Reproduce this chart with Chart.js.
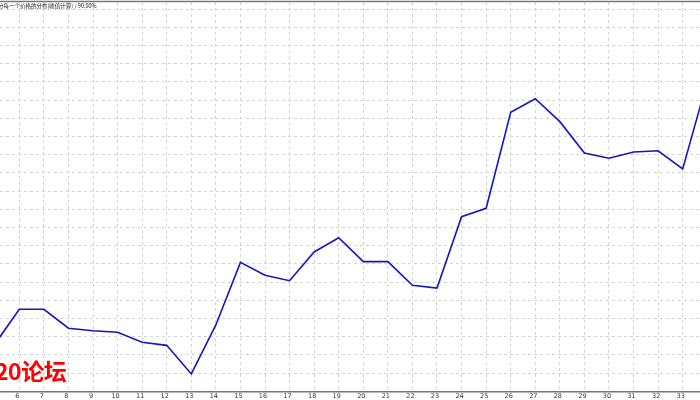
<!DOCTYPE html>
<html>
<head>
<meta charset="utf-8">
<script src="https://cdn.jsdelivr.net/npm/chart.js@4"></script>
<style>
  body { margin: 0; background: #fff; }
  #wrap { position: relative; width: 700px; height: 400px; overflow: hidden; }
  #title { position: absolute; left: -2px; top: 2px; font: 5.5px "Noto Sans CJK SC", sans-serif; color: #222; white-space: nowrap; }
  #mark { position: absolute; left: -5px; top: 353px; font: bold 23px "Noto Sans CJK SC", sans-serif; color: #f00; white-space: nowrap; letter-spacing: -0.5px; }
</style>
</head>
<body>
<div id="wrap">
  <canvas id="lineChart"></canvas>
  <div id="title">分每一个价格的分布(峰值计算) / 90.00%</div>
  <div id="mark">20论坛</div>
</div>
<script>
// bar index shown on the bottom axis (5 and 34 fall just outside the view)
const xValues = [5, 6, 7, 8, 9, 10, 11, 12, 13, 14, 15, 16, 17, 18, 19, 20,
  21, 22, 23, 24, 25, 26, 27, 28, 29, 30, 31, 32, 33, 34];
const yValues = [2.58, 4.50, 4.50, 3.46, 3.32, 3.24, 2.69, 2.52, 0.95, 3.64,
  7.08, 6.37, 6.07, 7.65, 8.43, 7.12, 7.12, 5.82, 5.67, 9.59,
  10.05, 15.32, 16.07, 14.81, 13.09, 12.80, 13.14, 13.21, 12.21, 17.04];
const xTicks = [6, 7, 8, 9, 10, 11, 12, 13, 14, 15, 16, 17, 18, 19, 20,
  21, 22, 23, 24, 25, 26, 27, 28, 29, 30, 31, 32, 33];
const yTicks = [0, 1, 2, 3, 4, 5, 6, 7, 8, 9, 10, 11, 12, 13, 14, 15, 16, 17, 18, 19, 20, 21];

const topLine = {
  id: 'topLine',
  afterDraw(chart) {
    const ctx = chart.ctx, a = chart.chartArea;
    ctx.save();
    ctx.strokeStyle = '#777';
    ctx.lineWidth = 1.5;
    ctx.beginPath();
    ctx.moveTo(a.left, a.top - 0.5);
    ctx.lineTo(a.right, a.top - 0.5);
    ctx.stroke();
    ctx.restore();
  }
};

const ctx = document.getElementById('lineChart').getContext('2d');
new Chart(ctx, {
  type: 'line',
  data: {
    datasets: [{
      data: xValues.map((x, i) => ({ x: x, y: yValues[i] })),
      borderColor: '#1414c8',
      borderWidth: 1.6,
      pointRadius: 0,
      tension: 0
    }]
  },
  options: {
    responsive: true,
    maintainAspectRatio: false,
    animation: false,
    layout: { padding: { top: 2, left: 0, right: 0, bottom: 0 } },
    plugins: { legend: { display: false }, tooltip: { enabled: false } },
    scales: {
      x: {
        type: 'linear',
        min: 5.2145,
        max: 33.704,
        afterBuildTicks: s => { s.ticks = xTicks.map(v => ({ value: v })); },
        afterFit: s => { s.height = 8.5; },
        grid: { color: '#d4d4d4', drawTicks: false },
        border: { color: '#777', width: 1.5, dash: [3, 3] },
        ticks: {
          padding: 1,
          labelOffset: -2,
          maxRotation: 0,
          autoSkip: false,
          font: { size: 6.5, family: 'DejaVu Sans' },
          color: '#333',
          callback: v => String(v)
        }
      },
      y: {
        min: -0.016,
        max: 21.385,
        afterBuildTicks: s => { s.ticks = yTicks.map(v => ({ value: v })); },
        afterFit: s => { s.width = 0; },
        grid: { color: '#d4d4d4', drawTicks: false },
        border: { display: false, dash: [3, 3] },
        ticks: { display: false }
      }
    }
  },
  plugins: [topLine]
});
</script>
</body>
</html>
